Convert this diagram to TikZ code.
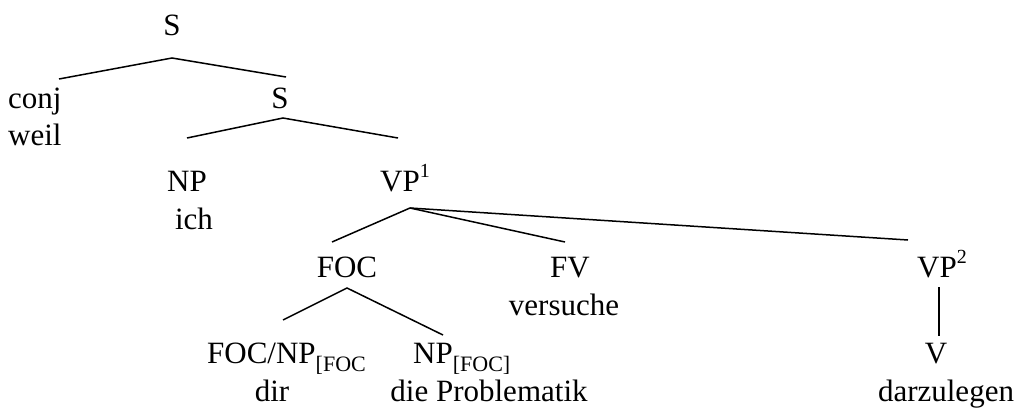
\documentclass[tikz,border=0pt]{standalone}
\usepackage{fontspec}
\setmainfont{Liberation Serif}
\newcommand{\mysub}[1]{\raisebox{-8pt}{\fontsize{22}{22}\selectfont #1}}
\newcommand{\mysup}[1]{\raisebox{14pt}{\fontsize{20}{20}\selectfont #1}}
\begin{document}
\begin{tikzpicture}[x=1pt,y=-1pt,
  lbl/.style={inner sep=0pt, anchor=base, font=\fontsize{31}{37}\selectfont},
  lblw/.style={lbl, anchor=base west},
  edge/.style={line width=1.5pt}]
\useasboundingbox (0,0) rectangle (1019,410);
% labels
\node[lbl]  (s1)   at (172,35)  {S};
\node[lblw] (conj) at (8,108)   {conj};
\node[lblw] (weil) at (8,145)   {weil};
\node[lbl]  (s2)   at (280,108) {S};
\node[lbl]  (np)   at (187,191) {NP};
\node[lbl]  (ich)  at (194,229) {ich};
\node[lblw] (vp1)  at (380,191) {VP\mysup{1}};
\node[lbl]  (foc)  at (347,277) {FOC};
\node[lbl]  (fv)   at (570,277) {FV};
\node[lblw] (vp2)  at (917,277) {VP\mysup{2}};
\node[lbl]  (vers) at (564,315) {versuche};
\node[lblw] (focnp) at (207,363) {FOC/NP\mysub{[FOC}};
\node[lblw] (npfoc) at (413,363) {NP\mysub{[FOC]}};
\node[lbl]  (v)    at (936,363) {V};
\node[lbl]  (dir)  at (272,401) {dir};
\node[lbl]  (prob) at (489,401) {die Problematik};
\node[lbl]  (darz) at (946,401) {darzulegen};
% branch points
\coordinate (s1b)  at (172,58);
\coordinate (conjt) at (59,79);
\coordinate (s2t)  at (286,77);
\coordinate (s2b)  at (283,118);
\coordinate (npt)  at (187,138);
\coordinate (vp1t) at (398,138);
\coordinate (vp1b) at (410,208);
\coordinate (foct) at (332,242);
\coordinate (fvt)  at (565,242);
\coordinate (vp2t) at (908,240);
\coordinate (focb) at (347,288);
\coordinate (focnpt) at (283,320);
\coordinate (npfoct) at (443,335);
\coordinate (vp2b) at (939,287);
\coordinate (vt)   at (939,336);
% edges
\draw[edge] (conjt) -- (s1b) -- (s2t);
\draw[edge] (npt) -- (s2b) -- (vp1t);
\draw[edge] (foct) -- (vp1b) -- (fvt);
\draw[edge] (vp1b) -- (vp2t);
\draw[edge] (focnpt) -- (focb) -- (npfoct);
\draw[edge] (vp2b) -- (vt);
\end{tikzpicture}
\end{document}
